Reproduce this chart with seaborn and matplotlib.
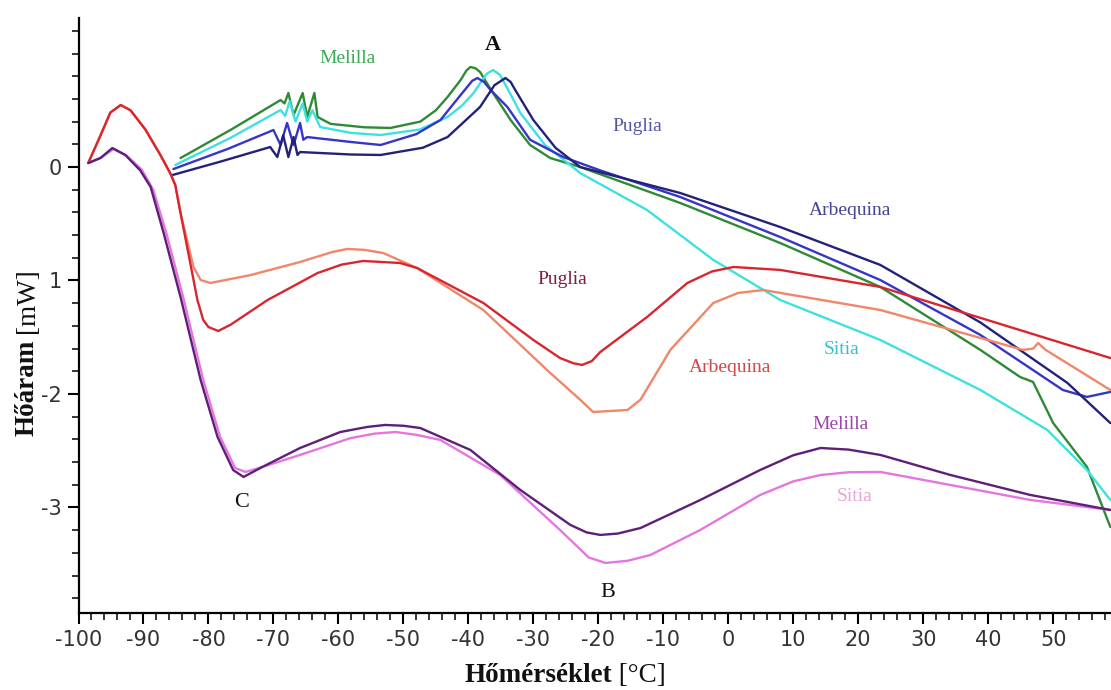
import matplotlib
matplotlib.use("Agg")
import matplotlib.pyplot as plt
import seaborn as sns
from matplotlib.ticker import MultipleLocator, FixedLocator

# ---------------- data (temperature °C, heat flow mW) ----------------
melilla_up_T = [-84.3, -76.5, -68.9, -68.3, -67.7, -66.9, -65.5, -64.8, -63.7, -63.2, -61.2, -56.0, -52.0,
                -47.4, -45.0, -43.2, -41.2, -40.3, -39.7, -38.9, -38.2, -36.2, -33.5, -30.5, -27.4, -22.8, -7.4, 8.0,
                23.4, 38.8, 44.9, 46.9, 50.0, 55.2, 58.8]
melilla_up_V = [0.079, 0.33, 0.590, 0.56, 0.652, 0.458, 0.652, 0.441, 0.652, 0.441, 0.38, 0.35, 0.344,
                0.40, 0.50, 0.617, 0.766, 0.85, 0.881, 0.87, 0.837, 0.652, 0.414, 0.194, 0.079, 0.0, -0.317, -0.670,
                -1.057, -1.612, -1.850, -1.894, -2.256, -2.643, -3.172]

sitia_up_T = [-85.1, -76.5, -68.9, -68.2, -67.5, -66.6, -65.5, -64.8, -64.0, -62.8, -58.0, -53.5, -47.5,
              -43.2, -41.0, -39.2, -37.2, -36.2, -35.1, -33.5, -32.0, -28.2, -22.8, -12.5, -2.3, 8.0, 23.4, 38.8,
              49.1, 55.2, 58.8]
sitia_up_V = [0.018, 0.26, 0.502, 0.45, 0.58, 0.40, 0.56, 0.40, 0.50, 0.352, 0.30, 0.282, 0.33,
              0.441, 0.54, 0.652, 0.82, 0.855, 0.81, 0.64, 0.476, 0.194, -0.053, -0.379, -0.819, -1.172, -1.524, -1.965,
              -2.317, -2.670, -2.934]

puglia_up_T = [-85.4, -77.0, -70.0, -68.9, -67.9, -66.9, -65.9, -65.4, -64.8, -58.0, -53.5, -48.0, -44.3, -41.2,
               -39.4, -38.6, -37.6, -36.6, -34.0, -30.5, -25.4, -19.7, -7.4, 8.0, 23.4, 38.8, 51.5, 55.2, 58.8]
puglia_up_V = [-0.018, 0.16, 0.326, 0.194, 0.388, 0.194, 0.388, 0.24, 0.264, 0.22, 0.194, 0.29, 0.414, 0.634,
               0.76, 0.784, 0.75, 0.68, 0.529, 0.24, 0.088, -0.03, -0.264, -0.617, -0.996, -1.48, -1.965, -2.026, -1.982]

arbequina_up_T = [-85.5, -78.0, -70.5, -69.4, -68.5, -67.7, -66.9, -66.3, -65.9, -58.0, -53.5, -47.0, -43.2, -38.2,
                  -36.0, -34.3, -33.5, -32.8, -30.0, -26.6, -22.8, -7.4, 8.0, 23.4, 38.8, 52.2, 58.8]
arbequina_up_V = [-0.070, 0.05, 0.176, 0.088, 0.28, 0.088, 0.264, 0.106, 0.132, 0.11, 0.106, 0.17, 0.264, 0.529,
                  0.72, 0.784, 0.75, 0.68, 0.414, 0.17, 0.0, -0.229, -0.529, -0.863, -1.37, -1.903, -2.256]

puglia_lo_T = [-98.5, -96.6, -95.1, -93.5, -92.0, -89.7, -87.4, -85.9, -85.1, -84.3, -82.8, -81.7,
               -80.8, -80.0, -78.5, -76.6, -70.9, -63.2, -59.5, -56.2, -50.5, -47.9, -37.7, -30.0, -25.9,
               -23.8, -22.5, -21.0, -19.7, -12.5, -6.3, -2.5, 0.8, 8.0, 23.4, 58.8]
puglia_lo_V = [0.035, 0.28, 0.48, 0.546, 0.50, 0.33, 0.106, -0.053, -0.16, -0.405, -0.846, -1.172,
               -1.348, -1.41, -1.445, -1.39, -1.172, -0.934, -0.86, -0.828, -0.846, -0.890, -1.198, -1.524, -1.683,
               -1.73, -1.744, -1.71, -1.63, -1.322, -1.022, -0.92, -0.881, -0.907, -1.057, -1.683]

arbequina_lo_T = [-98.5, -96.6, -95.1, -93.5, -92.0, -89.7, -87.4, -85.9, -85.1, -84.3, -82.3, -81.2,
                  -79.7, -73.5, -65.9, -61.0, -58.6, -56.0, -53.1, -47.9, -37.7, -27.4, -22.8, -20.8, -15.5, -13.5,
                  -8.9, -2.3, 1.5, 5.4, 23.4, 45.4, 46.9, 47.7, 48.8, 58.8]
arbequina_lo_V = [0.035, 0.28, 0.48, 0.546, 0.50, 0.33, 0.106, -0.053, -0.16, -0.405, -0.881, -0.996,
                  -1.022, -0.952, -0.837, -0.75, -0.722, -0.73, -0.758, -0.890, -1.260, -1.815, -2.05, -2.159, -2.141, -2.05,
                  -1.61, -1.198, -1.11, -1.084, -1.260, -1.612, -1.60, -1.551, -1.61, -1.965]

melilla_lo_T = [-98.5, -96.6, -94.8, -92.8, -90.5, -88.9, -86.9, -84.3, -81.2, -78.6, -76.2, -74.6,
                -71.7, -65.9, -59.7, -55.5, -52.8, -50.0, -47.4, -39.7, -32.0, -24.3, -21.8, -19.7, -17.0, -13.5,
                -4.3, 4.9, 10.0, 14.2, 18.5, 23.4, 34.2, 46.5, 58.8]
melilla_lo_V = [0.035, 0.08, 0.167, 0.106, -0.03, -0.176, -0.581, -1.145, -1.877, -2.379, -2.670, -2.731,
                -2.643, -2.476, -2.335, -2.29, -2.273, -2.28, -2.300, -2.493, -2.846, -3.154, -3.22, -3.242, -3.23, -3.181,
                -2.934, -2.670, -2.54, -2.476, -2.49, -2.537, -2.714, -2.890, -3.022]

sitia_lo_T = [-98.5, -96.6, -94.6, -92.6, -90.3, -88.5, -86.5, -83.9, -80.8, -78.2, -75.9, -74.3,
              -71.7, -65.9, -58.2, -54.5, -51.2, -48.0, -44.3, -35.1, -25.9, -21.5, -18.9, -15.5, -12.0, -4.3,
              4.9, 10.0, 14.2, 18.5, 23.4, 34.2, 46.5, 58.8]
sitia_lo_V = [0.035, 0.08, 0.159, 0.10, -0.02, -0.20, -0.58, -1.145, -1.877, -2.379, -2.652, -2.687,
              -2.643, -2.537, -2.39, -2.35, -2.335, -2.36, -2.405, -2.714, -3.198, -3.44, -3.489, -3.47, -3.419, -3.198,
              -2.890, -2.77, -2.714, -2.69, -2.687, -2.802, -2.934, -3.022]

x_ticks = [-100, -90, -80, -70, -60, -50, -40, -30, -20, -10, 0, 10, 20, 30, 40, 50]
y_ticks = [0, -1, -2, -3]
y_tick_labels = ["0", "1", "-2", "-3"]

curves = [
    (melilla_up_T, melilla_up_V, "#2f8a35"),
    (sitia_up_T, sitia_up_V, "#3ee0e0"),
    (puglia_up_T, puglia_up_V, "#3535c8"),
    (arbequina_up_T, arbequina_up_V, "#22227a"),
    (arbequina_lo_T, arbequina_lo_V, "#f0866a"),
    (puglia_lo_T, puglia_lo_V, "#d8262e"),
    (sitia_lo_T, sitia_lo_V, "#e476e0"),
    (melilla_lo_T, melilla_lo_V, "#5e1f78"),
]

# ---------------- figure ----------------
sns.set_theme(style="white")
plt.rcParams["font.family"] = ["DejaVu Sans"]
plt.rcParams["axes.unicode_minus"] = False

fig = plt.figure(figsize=(11.11, 6.9), dpi=100)
ax = fig.add_axes([78.5 / 1111, 77 / 690, 1 - 78.5 / 1111, (613 - 18) / 690])

for T, V, c in curves:
    sns.lineplot(x=T, y=V, sort=False, color=c, lw=1.7, ax=ax, estimator=None)

ax.set_xlim(-100, 58.9)
ax.set_ylim(-3.93, 1.313)

for s in ["top", "right"]:
    ax.spines[s].set_visible(False)
for s in ["left", "bottom"]:
    ax.spines[s].set_color("black")
    ax.spines[s].set_linewidth(1.6)

ax.xaxis.set_major_locator(FixedLocator(x_ticks))
ax.xaxis.set_minor_locator(MultipleLocator(2))
ax.yaxis.set_major_locator(FixedLocator(y_ticks))
ax.set_yticklabels(y_tick_labels)
ax.yaxis.set_minor_locator(MultipleLocator(0.2))
ax.tick_params(which="major", direction="out", length=8, width=1.5, color="black",
               labelsize=15, labelcolor="#333333", pad=4, left=True, bottom=True)
ax.tick_params(which="minor", direction="out", length=5, width=1.1, color="black",
               left=True, bottom=True)
ax.grid(False)

serif = ["Liberation Serif", "DejaVu Serif"]
# axis titles (bold word + normal-weight unit)
fig.text(612 / 1111, 1 - 676 / 690, "Hőmérséklet", fontsize=19.5, fontweight="bold",
         family=serif, ha="right", va="center", color="#111111")
fig.text(612 / 1111, 1 - 676 / 690, " [°C]", fontsize=19.5, family=serif,
         ha="left", va="center", color="#111111")
fig.text(27 / 1111, 1 - 340 / 690, "Hőáram", fontsize=19.5, fontweight="bold",
         family=serif, rotation=90, ha="center", va="top", color="#111111")
fig.text(27 / 1111, 1 - 333 / 690, "[mW]", fontsize=19.5, family=serif,
         rotation=90, ha="center", va="bottom", color="#111111")

labels = [
    (-58.6, 0.952, "Melilla", "#3aaa55"),
    (-14.0, 0.361, "Puglia", "#5555aa"),
    (18.8, -0.379, "Arbequina", "#454590"),
    (-25.5, -0.987, "Puglia", "#7a1f40"),
    (0.3, -1.771, "Arbequina", "#d04848"),
    (17.5, -1.612, "Sitia", "#35c0d0"),
    (17.2, -2.273, "Melilla", "#9a48a8"),
    (19.5, -2.907, "Sitia", "#e8a6d8"),
]
for x, y, t, c in labels:
    ax.text(x, y, t, fontsize=14, family=serif, color=c, ha="center", va="center")
for x, y, t in [(-36.2, 1.075, "A"), (-74.9, -2.952, "C"), (-18.5, -3.753, "B")]:
    ax.text(x, y, t, fontsize=16, family=serif, color="#111111", ha="center", va="center",
            fontweight="bold" if t == "A" else "normal")

fig.savefig("out.png", dpi=100)
